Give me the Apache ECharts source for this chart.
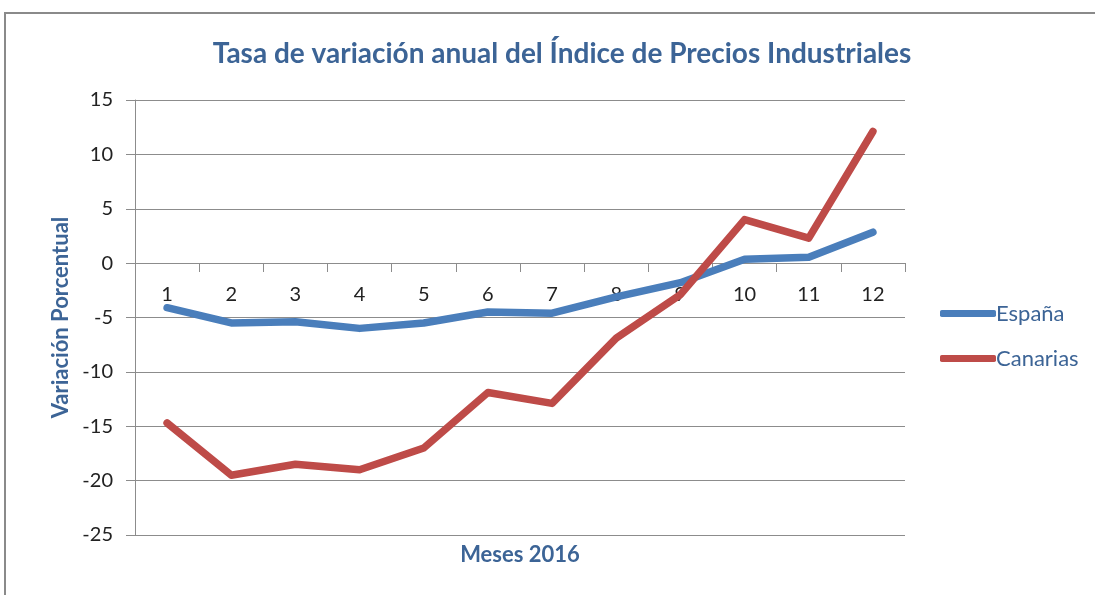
<!DOCTYPE html>
<html>
<head>
<meta charset="utf-8">
<script src="https://cdn.jsdelivr.net/npm/echarts@6/dist/echarts.min.js"></script>
<style>
  html, body { margin: 0; padding: 0; background: #fff; }
  #chart { width: 1095px; height: 595px; }
</style>
</head>
<body>
<div id="chart"></div>
<script>
// meses 2016
const meses = ["1", "2", "3", "4", "5", "6", "7", "8", "9", "10", "11", "12"];
const espana = [-4.1, -5.5, -5.4, -6.0, -5.5, -4.5, -4.6, -3.1, -1.8, 0.35, 0.55, 2.85];
const canarias = [-14.7, -19.5, -18.5, -19.0, -17.0, -11.9, -12.9, -6.9, -2.9, 4.0, 2.3, 12.1];

const azul = "#4a7ebb";
const rojo = "#be4b48";
const textoAzul = "#3c6496";
const gris = "#8c8c8c";
const fuente = "Lato, 'Open Sans', sans-serif";

const chart = echarts.init(document.getElementById("chart"));
chart.setOption({
  animation: false,
  textStyle: { fontFamily: fuente },
  title: {
    text: "Tasa de variación anual del Índice de Precios Industriales",
    left: 557,
    textAlign: "center",
    top: 35,
    textStyle: { color: textoAzul, fontSize: 28, fontWeight: "bold", fontFamily: fuente },
  },
  graphic: [
    {
      type: "rect",
      shape: { x: 5, y: 13, width: 1200, height: 700 },
      style: { fill: "none", stroke: "#8a8a8a", lineWidth: 2 },
      silent: true,
    },
  ],
  legend: {
    orient: "vertical",
    left: 935,
    top: 296,
    itemWidth: 56,
    itemHeight: 7,
    itemGap: 20,
    icon: "roundRect",
    data: ["España", "Canarias"],
    textStyle: { color: textoAzul, fontSize: 22, padding: [0, 0, 0, -5], lineHeight: 25 },
  },
  // grid 0: plot completo; grid 1: mitad superior (0..15) para el eje de categorías en y=0
  grid: [
    { left: 135, right: 190, top: 100, bottom: 60 },
    { left: 135, right: 190, top: 100, bottom: 332 },
  ],
  xAxis: [
    {
      type: "category",
      gridIndex: 0,
      data: meses,
      axisLine: { show: false },
      axisTick: { show: false },
      axisLabel: { show: false },
      name: "Meses 2016",
      nameLocation: "middle",
      nameGap: 9,
      nameTextStyle: { color: textoAzul, fontSize: 22, fontWeight: "bold" },
    },
    {
      type: "category",
      gridIndex: 1,
      data: meses,
      boundaryGap: true,
      axisLine: { show: true, onZero: false, lineStyle: { color: gris, width: 1 } },
      axisTick: { show: true, length: 9, lineStyle: { color: gris } },
      axisLabel: { color: "#222", fontSize: 20, margin: 22 },
      splitLine: { show: false },
    },
  ],
  yAxis: [
    {
      type: "value",
      gridIndex: 0,
      min: -25,
      max: 15,
      interval: 5,
      axisLine: { show: true, lineStyle: { color: gris } },
      axisTick: { show: true, length: 9, lineStyle: { color: gris } },
      axisLabel: { color: "#222", fontSize: 20, margin: 22 },
      splitLine: { show: true, lineStyle: { color: gris, width: 1 } },
      name: "Variación Porcentual",
      nameLocation: "middle",
      nameRotate: 90,
      nameGap: 63,
      nameTextStyle: { color: textoAzul, fontSize: 22, fontWeight: "bold" },
    },
    {
      type: "value",
      gridIndex: 1,
      min: 0,
      max: 15,
      show: false,
    },
  ],
  series: [
    {
      name: "España",
      type: "line",
      data: espana,
      showSymbol: false,
      symbol: "none",
      color: azul,
      lineStyle: { color: azul, width: 7.5, cap: "round", join: "round" },
    },
    {
      name: "Canarias",
      type: "line",
      data: canarias,
      showSymbol: false,
      symbol: "none",
      color: rojo,
      lineStyle: { color: rojo, width: 7.5, cap: "round", join: "round" },
    },
  ],
});
</script>
</body>
</html>
